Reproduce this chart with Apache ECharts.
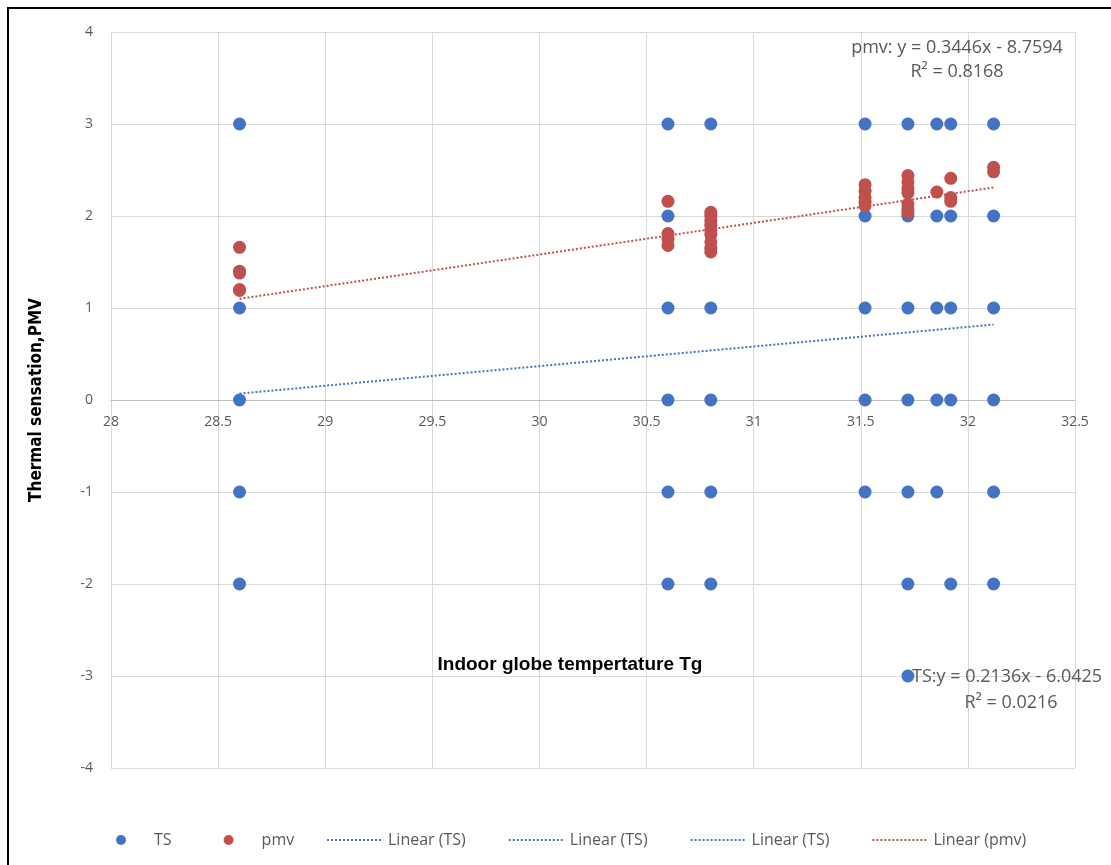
<!DOCTYPE html>
<html>
<head>
<meta charset="utf-8">
<script src="https://cdn.jsdelivr.net/npm/echarts@6/dist/echarts.min.js"></script>
<style>
html,body{margin:0;padding:0;background:#fff;}
#chart{width:1111px;height:865px;}
</style>
</head>
<body>
<div id="chart"></div>
<script>
// Indoor globe temperature Tg (x positions of the survey groups)
const tgValues = [28.6, 30.6, 30.8, 31.52, 31.72, 31.855, 31.92, 32.12];
// Thermal sensation votes (TS) observed at each Tg
const tsVotes = [
  [3, 1, 0, -1, -2],
  [3, 2, 1, 0, -1, -2],
  [3, 1, 0, -1, -2],
  [3, 2, 1, 0, -1],
  [3, 2, 1, 0, -1, -2, -3],
  [3, 2, 1, 0, -1],
  [3, 2, 1, 0, -2],
  [3, 2, 1, 0, -1, -2]
];
// Predicted mean vote (pmv) values at each Tg
const pmvValues = [
  [1.66, 1.40, 1.38, 1.20, 1.19],
  [2.16, 1.81, 1.75, 1.68],
  [2.04, 2.00, 1.95, 1.90, 1.85, 1.80, 1.72, 1.65, 1.61],
  [2.34, 2.27, 2.20, 2.15, 2.11],
  [2.44, 2.37, 2.30, 2.25, 2.13, 2.08, 2.04],
  [2.26],
  [2.41, 2.20, 2.16],
  [2.53, 2.48]
];
// Linear trend lines (end points)
const trendTS = [[28.6, 0.07], [32.12, 0.82]];
const trendPMV = [[28.6, 1.10], [32.12, 2.31]];
// Axis ticks
const xTicks = [28, 28.5, 29, 29.5, 30, 30.5, 31, 31.5, 32, 32.5];
const yTicks = [-4, -3, -2, -1, 0, 1, 2, 3, 4];
// Labels
const legendNames = ['TS', 'pmv', 'Linear (TS)', 'Linear (TS) ', 'Linear (TS)  ', 'Linear (pmv)'];
const pmvEquation = ['pmv: y = 0.3446x - 8.7594', 'R\u00b2 = 0.8168'];
const tsEquation = ['TS:y = 0.2136x - 6.0425', 'R\u00b2 = 0.0216'];

const tsData = [];
tgValues.forEach((x, i) => tsVotes[i].forEach(v => tsData.push([x, v])));
const pmvData = [];
tgValues.forEach((x, i) => pmvValues[i].forEach(v => pmvData.push([x, v])));

const BLUE = '#4472c4';
const RED = '#c0504d';
const GREY = '#595959';
const FONT = 'Open Sans';
const hideSym = {opacity: 0};

const GRID_TOP = 32, GRID_BOTTOM = 97, H = 865;
// pixel distance from bottom of plot to y=0 line (plot spans y = -4..4)
const zeroOffset = -((H - GRID_BOTTOM) - GRID_TOP) / 2;

const chart = echarts.init(document.getElementById('chart'), null, {renderer: 'canvas'});
chart.setOption({
  backgroundColor: '#fff',
  animation: false,
  grid: {left: 111, right: 36, top: GRID_TOP, bottom: GRID_BOTTOM, containLabel: false, outerBoundsMode: 'none'},
  xAxis: {
    type: 'value',
    position: 'bottom',
    offset: zeroOffset,
    min: xTicks[0], max: xTicks[xTicks.length - 1], interval: 0.5,
    axisLine: {onZero: false, lineStyle: {color: '#bfbfbf', width: 1}},
    axisTick: {show: false},
    axisLabel: {color: GREY, fontSize: 14, fontFamily: FONT, margin: 15,
      formatter: v => String(v)},
    splitLine: {show: true, lineStyle: {color: '#d9d9d9', width: 1}},
    name: 'Indoor globe tempertature Tg',
    nameLocation: 'middle',
    nameGap: 255,
    nameTextStyle: {color: '#000', fontSize: 19, fontWeight: 'bold', fontFamily: 'Liberation Sans',
      padding: [0, 46, 0, 0]}
  },
  yAxis: {
    type: 'value',
    min: yTicks[0], max: yTicks[yTicks.length - 1], interval: 1,
    axisLine: {show: true, onZero: false, lineStyle: {color: '#d9d9d9', width: 1}},
    axisTick: {show: false},
    axisLabel: {color: GREY, fontSize: 14, fontFamily: FONT, margin: 18},
    splitLine: {show: true, lineStyle: {color: '#d9d9d9', width: 1}},
    name: 'Thermal sensation,PMV',
    nameLocation: 'middle',
    nameGap: 66,
    nameTextStyle: {color: '#000', fontSize: 17, fontWeight: 'bold',
      fontFamily: '"DejaVu Sans Condensed", "Liberation Sans", sans-serif'}
  },
  legend: [
    {
      left: 111, top: 827,
      itemWidth: 56, itemHeight: 10, itemGap: 52,
      textStyle: {color: GREY, fontSize: 16, fontFamily: FONT},
      data: [
        {name: legendNames[0], icon: 'circle'},
        {name: legendNames[1], icon: 'circle'}
      ]
    },
    {
      left: 321, top: 827,
      itemWidth: 56, itemHeight: 10, itemGap: 42,
      textStyle: {color: GREY, fontSize: 16, fontFamily: FONT},
      formatter: n => n.trim(),
      data: [
        {name: legendNames[2], itemStyle: hideSym},
        {name: legendNames[3], itemStyle: hideSym},
        {name: legendNames[4], itemStyle: hideSym},
        {name: legendNames[5], itemStyle: hideSym}
      ]
    }
  ],
  series: [
    {name: legendNames[2], type: 'line', data: trendTS, symbol: 'none', z: 3,
      lineStyle: {color: BLUE, width: 2, type: [2, 2]}, itemStyle: {color: BLUE}},
    {name: legendNames[3], type: 'line', data: [], symbol: 'none',
      lineStyle: {color: BLUE, width: 2, type: [2, 2]}, itemStyle: {color: BLUE}},
    {name: legendNames[4], type: 'line', data: [], symbol: 'none',
      lineStyle: {color: BLUE, width: 2, type: [2, 2]}, itemStyle: {color: BLUE}},
    {name: legendNames[5], type: 'line', data: trendPMV, symbol: 'none', z: 3,
      lineStyle: {color: RED, width: 2, type: [2, 2]}, itemStyle: {color: RED}},
    {name: legendNames[0], type: 'scatter', data: tsData, symbolSize: 13, z: 4,
      itemStyle: {color: BLUE, opacity: 1}},
    {name: legendNames[1], type: 'scatter', data: pmvData, symbolSize: 13, z: 5,
      itemStyle: {color: RED, opacity: 1}}
  ],
  graphic: [
    {type: 'rect', z: 100, silent: true,
      shape: {x: 8, y: 8, width: 1300, height: 1000},
      style: {fill: 'none', stroke: '#000', lineWidth: 2}},
    {type: 'text', z: 50, silent: true,
      style: {text: pmvEquation[0] + '\n' + pmvEquation[1], x: 957, y: 36, textAlign: 'center',
        fill: GREY, font: '18px "Open Sans"', lineHeight: 24}},
    {type: 'text', z: 50, silent: true,
      style: {text: tsEquation[0], x: 912, y: 668, textAlign: 'left',
        fill: GREY, font: '18px "Open Sans"'}},
    {type: 'text', z: 50, silent: true,
      style: {text: tsEquation[1], x: 1011, y: 694, textAlign: 'center',
        fill: GREY, font: '18px "Open Sans"'}}
  ]
});
</script>
</body>
</html>
